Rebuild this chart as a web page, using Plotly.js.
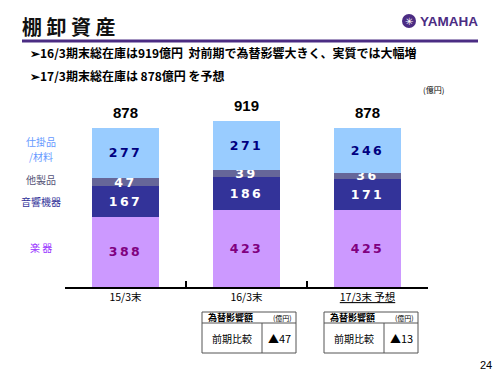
<!DOCTYPE html>
<html><head><meta charset="utf-8">
<script src="https://cdn.plot.ly/plotly-3.0.1.min.js"></script>
<style>html,body{margin:0;padding:0;background:#fff}#chart{width:500px;height:375px}
.bartext{letter-spacing:2.5px}</style>
</head><body><div id="chart"></div>
<script>
// ---- data ----
const categories = ["15/3末", "16/3末", "17/3末 予想"];
const tickLabels = ["15/3末", "16/3末", "<span style='text-decoration:underline'>17/3末 予想</span>"];
const seriesNames = ["楽器", "音響機器", "他製品", "仕掛品/材料"];
const gakki   = [388, 423, 425];
const onkyo   = [167, 186, 171];
const tasei   = [47, 39, 36];
const shikake = [277, 271, 246];
const totals  = [878, 919, 878];
const fxTableCols = [1, 2];          // category index for each table
const fxImpact = ["▲47", "▲13"];

// ---- style ----
const JP = "Noto Sans CJK JP, Liberation Sans, sans-serif";
const NUM = "Liberation Sans, Arial, sans-serif";
const BARNUM = "DejaVu Sans, Liberation Sans, sans-serif";
const barColors = ["#CC99FF", "#333399", "#666699", "#99CCFF"];
const textColors = ["#800080", "#FFFFFF", "#FFFFFF", "#000080"];
const labelColors = ["#9933FF", "#333399", "#555577", "#6699FF"];
const PURPLE = "#4B2C83";

const L = 65, T = 105, W = 363, H = 182;
const px = x => (x - L) / W;
const py = y => (T + H - y) / H;

const vals = [gakki, onkyo, tasei, shikake];
const traces = vals.map((v, i) => ({
  type: "bar", x: categories, y: v, name: seriesNames[i],
  marker: {color: barColors[i], line: {width: 0}},
  width: 0.555,
  text: v.map(String), textposition: "inside", insidetextanchor: "middle",
  textangle: 0, constraintext: "none",
  textfont: {family: BARNUM, size: 12.5, color: textColors[i], weight: "bold"},
  hoverinfo: "skip"
}));

const ann = [];
// totals
categories.forEach((c, i) => ann.push({
  x: c, y: totals[i], xref: "x", yref: "y", text: "<b>" + totals[i] + "</b>",
  showarrow: false, yanchor: "bottom", yshift: 5,
  font: {family: NUM, size: 15, color: "#000"}
}));
// left series labels
const leftLab = [
  {t: "楽 器", y: 247}, {t: "音響機器", y: 201}, {t: "他製品", y: 179}, {t: "仕掛品", y: 141}, {t: "/材料", y: 156}
];
const leftCol = [labelColors[0], labelColors[1], labelColors[2], labelColors[3], labelColors[3]];
leftLab.forEach((o, i) => ann.push({
  x: px(41), y: py(o.y), xref: "paper", yref: "paper", text: o.t, showarrow: false, borderpad: 0,
  xanchor: "center", yanchor: "middle", font: {family: JP, size: 10, color: leftCol[i]}, align: "center"
}));
// bullets
ann.push({x: px(28), y: py(53), xref: "paper", yref: "paper", xanchor: "left", yanchor: "middle", showarrow: false,
  text: "<b>➢16/3期末総在庫は919億円  対前期で為替影響大きく、実質では大幅増</b>", font: {family: JP, size: 12, color: "#000"}});
ann.push({x: px(28), y: py(76), xref: "paper", yref: "paper", xanchor: "left", yanchor: "middle", showarrow: false,
  text: "<b>➢17/3期末総在庫は 878億円 を予想</b>", font: {family: JP, size: 12, color: "#000"}});
ann.push({x: px(433), y: py(89), xref: "paper", yref: "paper", xanchor: "center", yanchor: "middle", showarrow: false,
  text: "(億円)", font: {family: JP, size: 8, color: "#000"}});
// logo text
ann.push({x: px(418), y: py(21), xref: "paper", yref: "paper", xanchor: "left", yanchor: "middle", showarrow: false,
  text: "<b>YAMAHA</b>", font: {family: "Liberation Sans, sans-serif", size: 13.5, color: PURPLE}});
ann.push({x: px(409), y: py(21), xref: "paper", yref: "paper", xanchor: "center", yanchor: "middle", showarrow: false,
  text: "✳", font: {family: "DejaVu Sans", size: 10, color: "#FFFFFF"}});
// page number
ann.push({x: px(486), y: py(365), xref: "paper", yref: "paper", xanchor: "center", yanchor: "middle", showarrow: false,
  text: "24", font: {family: NUM, size: 11, color: "#000"}});

const shapes = [
  {type: "line", xref: "paper", yref: "paper", x0: px(22), x1: px(478), y0: py(41), y1: py(41), line: {color: PURPLE, width: 3}},
  {type: "circle", xref: "paper", yref: "paper", x0: px(402), x1: px(416), y0: py(28), y1: py(14), fillcolor: PURPLE, line: {width: 0}}
];
// fx tables
const tabX = [202, 324];
fxTableCols.forEach((ci, k) => {
  const x0 = tabX[k], x1 = x0 + 94, xd = x0 + 60, y0 = 312, yh = 323, y1 = 353;
  const ln = {color: "#555", width: 1};
  shapes.push({type: "rect", xref: "paper", yref: "paper", x0: px(x0), x1: px(x1), y0: py(y0), y1: py(y1), line: ln});
  shapes.push({type: "line", xref: "paper", yref: "paper", x0: px(x0), x1: px(x1), y0: py(yh), y1: py(yh), line: ln});
  shapes.push({type: "line", xref: "paper", yref: "paper", x0: px(xd), x1: px(xd), y0: py(yh), y1: py(y1), line: ln});
  ann.push({x: px(x0 + 4), y: py(317.5), xref: "paper", yref: "paper", xanchor: "left", yanchor: "middle", showarrow: false,
    text: "<b>為替影響額</b>", font: {family: JP, size: 9, color: "#000"}});
  ann.push({x: px(x0 + 80), y: py(317.5), xref: "paper", yref: "paper", xanchor: "center", yanchor: "middle", showarrow: false,
    text: "(億円)", font: {family: JP, size: 7, color: "#000"}});
  ann.push({x: px((x0 + xd) / 2), y: py(338), xref: "paper", yref: "paper", xanchor: "center", yanchor: "middle", showarrow: false,
    text: "前期比較", font: {family: JP, size: 10, color: "#000"}});
  ann.push({x: px((xd + x1) / 2), y: py(338), xref: "paper", yref: "paper", xanchor: "center", yanchor: "middle", showarrow: false,
    text: fxImpact[k], font: {family: JP, size: 11, color: "#000"}});
});

const layout = {
  width: 500, height: 375, margin: {l: L, r: 500 - L - W, t: T, b: 375 - T - H},
  paper_bgcolor: "#fff", plot_bgcolor: "#fff", showlegend: false, barmode: "stack",
  title: {text: "<b>棚 卸 資 産</b>", xref: "container", yref: "container", x: 22 / 500, xanchor: "left",
    y: 1 - 28 / 375, yanchor: "middle", font: {family: JP, size: 20, color: "#111"}},
  xaxis: {type: "category", tickvals: categories, ticktext: tickLabels, tickson: "boundaries",
    ticks: "inside", ticklen: 6, tickcolor: "#000", tickwidth: 1.5, showline: true, linecolor: "#000", linewidth: 1.5,
    showgrid: false, zeroline: false, tickfont: {family: JP, size: 10.5, color: "#000"}, fixedrange: true},
  yaxis: {range: [0, 1005], visible: false, showgrid: false, zeroline: false, fixedrange: true},
  annotations: ann, shapes: shapes
};
Plotly.newPlot("chart", traces, layout, {displayModeBar: false, staticPlot: true});
</script></body></html>
